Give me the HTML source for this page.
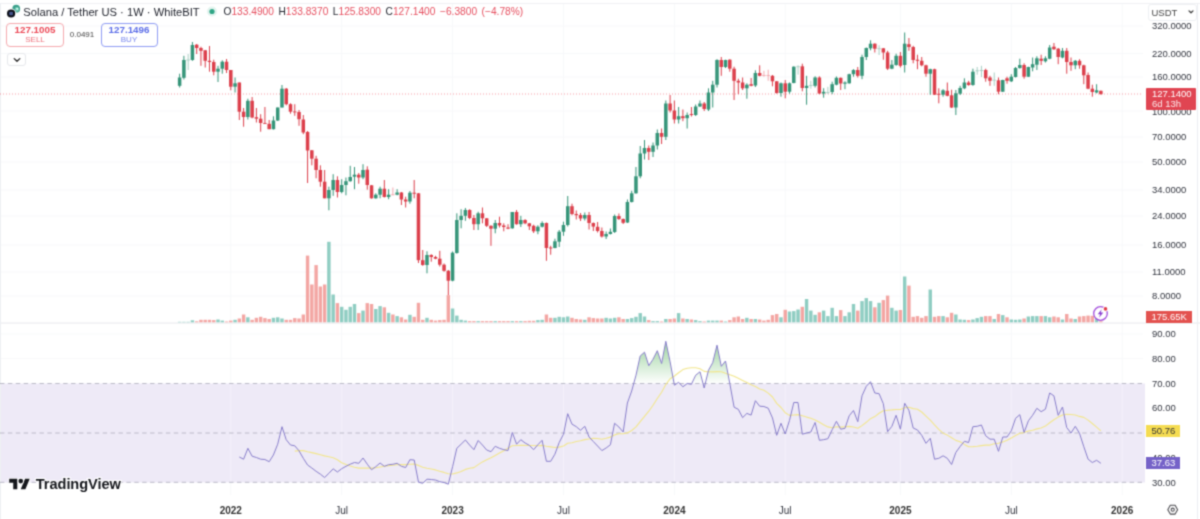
<!DOCTYPE html>
<html><head><meta charset="utf-8"><title>SOLUSDT</title>
<style>
html,body{margin:0;padding:0;background:#fff;}
body{width:1200px;height:519px;position:relative;overflow:hidden;font-family:"Liberation Sans",sans-serif;}
.t{position:absolute;font-size:9.5px;line-height:12px;color:#30333d;white-space:nowrap;}
.c{text-align:center;}
.k{color:#23262f;}
.box{position:absolute;box-sizing:border-box;}
#w{position:absolute;left:0;top:0;width:1200px;height:519px;overflow:hidden;filter:url(#softblur);background:#fff;}
</style></head><body><svg width="0" height="0" style="position:absolute"><defs><filter id="softblur" x="0" y="0" width="100%" height="100%" color-interpolation-filters="sRGB"><feConvolveMatrix order="3" kernelMatrix="0.036 0.118 0.036 0.118 0.384 0.118 0.036 0.118 0.036" divisor="1" edgeMode="duplicate" preserveAlpha="true"/></filter></defs></svg><div id="w">
<svg width="1200" height="519" viewBox="0 0 1200 519" style="position:absolute;left:0;top:0">
<defs><linearGradient id="ob" x1="0" y1="341" x2="0" y2="384" gradientUnits="userSpaceOnUse"><stop offset="0" stop-color="#4caf50" stop-opacity="0.55"/><stop offset="1" stop-color="#4caf50" stop-opacity="0"/></linearGradient>
<clipPath id="above70"><rect x="0" y="325" width="1143" height="58.5"/></clipPath></defs>
<line x1="0" x2="1143" y1="26" y2="26" stroke="#f7f8fa" stroke-width="1"/>
<line x1="0" x2="1143" y1="53.5" y2="53.5" stroke="#f7f8fa" stroke-width="1"/>
<line x1="0" x2="1143" y1="77" y2="77" stroke="#f7f8fa" stroke-width="1"/>
<line x1="0" x2="1143" y1="111" y2="111" stroke="#f7f8fa" stroke-width="1"/>
<line x1="0" x2="1143" y1="137" y2="137" stroke="#f7f8fa" stroke-width="1"/>
<line x1="0" x2="1143" y1="162" y2="162" stroke="#f7f8fa" stroke-width="1"/>
<line x1="0" x2="1143" y1="190" y2="190" stroke="#f7f8fa" stroke-width="1"/>
<line x1="0" x2="1143" y1="216" y2="216" stroke="#f7f8fa" stroke-width="1"/>
<line x1="0" x2="1143" y1="245" y2="245" stroke="#f7f8fa" stroke-width="1"/>
<line x1="0" x2="1143" y1="272" y2="272" stroke="#f7f8fa" stroke-width="1"/>
<line x1="0" x2="1143" y1="296" y2="296" stroke="#f7f8fa" stroke-width="1"/>
<line x1="0" x2="1143" y1="334" y2="334" stroke="#f7f8fa" stroke-width="1" opacity="0.8"/>
<line x1="0" x2="1143" y1="358.5" y2="358.5" stroke="#f7f8fa" stroke-width="1" opacity="0.8"/>
<line x1="0" x2="1143" y1="408" y2="408" stroke="#f7f8fa" stroke-width="1" opacity="0.8"/>
<line x1="0" x2="1143" y1="457.5" y2="457.5" stroke="#f7f8fa" stroke-width="1" opacity="0.8"/>
<line x1="230.8" x2="230.8" y1="4" y2="495" stroke="#f7f8fa" stroke-width="1"/>
<line x1="341.7" x2="341.7" y1="4" y2="495" stroke="#f7f8fa" stroke-width="1"/>
<line x1="452.6" x2="452.6" y1="4" y2="495" stroke="#f7f8fa" stroke-width="1"/>
<line x1="563.5" x2="563.5" y1="4" y2="495" stroke="#f7f8fa" stroke-width="1"/>
<line x1="674.4" x2="674.4" y1="4" y2="495" stroke="#f7f8fa" stroke-width="1"/>
<line x1="785.2" x2="785.2" y1="4" y2="495" stroke="#f7f8fa" stroke-width="1"/>
<line x1="900.4" x2="900.4" y1="4" y2="495" stroke="#f7f8fa" stroke-width="1"/>
<line x1="1011.3" x2="1011.3" y1="4" y2="495" stroke="#f7f8fa" stroke-width="1"/>
<line x1="1122.2" x2="1122.2" y1="4" y2="495" stroke="#f7f8fa" stroke-width="1"/>
<rect x="0" y="383.5" width="1145" height="99" fill="#eeeaf7"/>
<line x1="230.8" x2="230.8" y1="384" y2="482" stroke="#f4f1fb" stroke-width="1"/>
<line x1="341.7" x2="341.7" y1="384" y2="482" stroke="#f4f1fb" stroke-width="1"/>
<line x1="452.6" x2="452.6" y1="384" y2="482" stroke="#f4f1fb" stroke-width="1"/>
<line x1="563.5" x2="563.5" y1="384" y2="482" stroke="#f4f1fb" stroke-width="1"/>
<line x1="674.4" x2="674.4" y1="384" y2="482" stroke="#f4f1fb" stroke-width="1"/>
<line x1="785.2" x2="785.2" y1="384" y2="482" stroke="#f4f1fb" stroke-width="1"/>
<line x1="900.4" x2="900.4" y1="384" y2="482" stroke="#f4f1fb" stroke-width="1"/>
<line x1="1011.3" x2="1011.3" y1="384" y2="482" stroke="#f4f1fb" stroke-width="1"/>
<line x1="1122.2" x2="1122.2" y1="384" y2="482" stroke="#f4f1fb" stroke-width="1"/>
<line x1="0" x2="1200" y1="3.5" y2="3.5" stroke="#f0f1f4" stroke-width="1"/>
<rect x="0" y="322.3" width="1200" height="1.5" fill="#eff0f3"/>
<line x1="0.5" x2="0.5" y1="3" y2="519" stroke="#eef0f3" stroke-width="1"/>
<line x1="1197.5" x2="1197.5" y1="3" y2="519" stroke="#eceef2" stroke-width="1"/>
<rect x="177.92" y="321.80" width="3.4" height="0.50" fill="#8fcdc2"/>
<rect x="182.19" y="321.80" width="3.4" height="0.50" fill="#8fcdc2"/>
<rect x="186.45" y="321.80" width="3.4" height="0.50" fill="#8fcdc2"/>
<rect x="190.72" y="320.30" width="3.4" height="2.00" fill="#8fcdc2"/>
<rect x="194.98" y="321.30" width="3.4" height="1.00" fill="#f3a6a3"/>
<rect x="199.25" y="319.80" width="3.4" height="2.50" fill="#f3a6a3"/>
<rect x="203.51" y="319.80" width="3.4" height="2.50" fill="#f3a6a3"/>
<rect x="207.78" y="319.80" width="3.4" height="2.50" fill="#f3a6a3"/>
<rect x="212.04" y="320.10" width="3.4" height="2.20" fill="#f3a6a3"/>
<rect x="216.31" y="319.50" width="3.4" height="2.80" fill="#8fcdc2"/>
<rect x="220.57" y="320.60" width="3.4" height="1.70" fill="#8fcdc2"/>
<rect x="224.84" y="321.50" width="3.4" height="0.80" fill="#f3a6a3"/>
<rect x="229.10" y="320.60" width="3.4" height="1.70" fill="#f3a6a3"/>
<rect x="233.37" y="319.80" width="3.4" height="2.50" fill="#8fcdc2"/>
<rect x="237.63" y="318.50" width="3.4" height="3.80" fill="#f3a6a3"/>
<rect x="241.90" y="314.50" width="3.4" height="7.80" fill="#f3a6a3"/>
<rect x="246.16" y="317.30" width="3.4" height="5.00" fill="#8fcdc2"/>
<rect x="250.43" y="319.80" width="3.4" height="2.50" fill="#f3a6a3"/>
<rect x="254.69" y="317.80" width="3.4" height="4.50" fill="#f3a6a3"/>
<rect x="258.96" y="316.80" width="3.4" height="5.50" fill="#f3a6a3"/>
<rect x="263.22" y="318.10" width="3.4" height="4.20" fill="#f3a6a3"/>
<rect x="267.49" y="319.00" width="3.4" height="3.30" fill="#f3a6a3"/>
<rect x="271.75" y="317.80" width="3.4" height="4.50" fill="#8fcdc2"/>
<rect x="276.02" y="317.30" width="3.4" height="5.00" fill="#8fcdc2"/>
<rect x="280.28" y="318.50" width="3.4" height="3.80" fill="#8fcdc2"/>
<rect x="284.55" y="319.80" width="3.4" height="2.50" fill="#f3a6a3"/>
<rect x="288.81" y="319.80" width="3.4" height="2.50" fill="#f3a6a3"/>
<rect x="293.07" y="318.10" width="3.4" height="4.20" fill="#f3a6a3"/>
<rect x="297.34" y="318.50" width="3.4" height="3.80" fill="#f3a6a3"/>
<rect x="301.61" y="314.50" width="3.4" height="7.80" fill="#f3a6a3"/>
<rect x="305.87" y="255.60" width="3.4" height="66.70" fill="#f3a6a3"/>
<rect x="310.14" y="284.50" width="3.4" height="37.80" fill="#f3a6a3"/>
<rect x="314.40" y="265.10" width="3.4" height="57.20" fill="#f3a6a3"/>
<rect x="318.67" y="286.50" width="3.4" height="35.80" fill="#f3a6a3"/>
<rect x="322.93" y="284.50" width="3.4" height="37.80" fill="#f3a6a3"/>
<rect x="327.19" y="241.80" width="3.4" height="80.50" fill="#8fcdc2"/>
<rect x="331.46" y="294.50" width="3.4" height="27.80" fill="#8fcdc2"/>
<rect x="335.73" y="303.10" width="3.4" height="19.20" fill="#f3a6a3"/>
<rect x="339.99" y="306.80" width="3.4" height="15.50" fill="#8fcdc2"/>
<rect x="344.25" y="309.80" width="3.4" height="12.50" fill="#8fcdc2"/>
<rect x="348.52" y="306.80" width="3.4" height="15.50" fill="#8fcdc2"/>
<rect x="352.79" y="304.00" width="3.4" height="18.30" fill="#8fcdc2"/>
<rect x="357.05" y="313.10" width="3.4" height="9.20" fill="#f3a6a3"/>
<rect x="361.31" y="310.60" width="3.4" height="11.70" fill="#8fcdc2"/>
<rect x="365.58" y="303.10" width="3.4" height="19.20" fill="#f3a6a3"/>
<rect x="369.84" y="304.00" width="3.4" height="18.30" fill="#f3a6a3"/>
<rect x="374.11" y="309.00" width="3.4" height="13.30" fill="#8fcdc2"/>
<rect x="378.38" y="306.10" width="3.4" height="16.20" fill="#8fcdc2"/>
<rect x="382.64" y="307.30" width="3.4" height="15.00" fill="#f3a6a3"/>
<rect x="386.91" y="312.80" width="3.4" height="9.50" fill="#8fcdc2"/>
<rect x="391.17" y="314.50" width="3.4" height="7.80" fill="#f3a6a3"/>
<rect x="395.44" y="316.10" width="3.4" height="6.20" fill="#8fcdc2"/>
<rect x="399.70" y="317.30" width="3.4" height="5.00" fill="#f3a6a3"/>
<rect x="403.96" y="319.50" width="3.4" height="2.80" fill="#f3a6a3"/>
<rect x="408.23" y="314.80" width="3.4" height="7.50" fill="#8fcdc2"/>
<rect x="412.50" y="316.80" width="3.4" height="5.50" fill="#f3a6a3"/>
<rect x="416.76" y="302.80" width="3.4" height="19.50" fill="#f3a6a3"/>
<rect x="421.03" y="319.80" width="3.4" height="2.50" fill="#f3a6a3"/>
<rect x="425.29" y="317.80" width="3.4" height="4.50" fill="#8fcdc2"/>
<rect x="429.56" y="319.80" width="3.4" height="2.50" fill="#f3a6a3"/>
<rect x="433.82" y="320.60" width="3.4" height="1.70" fill="#f3a6a3"/>
<rect x="438.08" y="320.10" width="3.4" height="2.20" fill="#f3a6a3"/>
<rect x="442.35" y="319.80" width="3.4" height="2.50" fill="#f3a6a3"/>
<rect x="446.62" y="295.10" width="3.4" height="27.20" fill="#f3a6a3"/>
<rect x="450.88" y="308.50" width="3.4" height="13.80" fill="#8fcdc2"/>
<rect x="455.15" y="315.60" width="3.4" height="6.70" fill="#8fcdc2"/>
<rect x="459.41" y="319.80" width="3.4" height="2.50" fill="#8fcdc2"/>
<rect x="463.68" y="320.60" width="3.4" height="1.70" fill="#8fcdc2"/>
<rect x="467.94" y="321.10" width="3.4" height="1.20" fill="#f3a6a3"/>
<rect x="472.20" y="321.10" width="3.4" height="1.20" fill="#f3a6a3"/>
<rect x="476.47" y="321.10" width="3.4" height="1.20" fill="#8fcdc2"/>
<rect x="480.74" y="321.10" width="3.4" height="1.20" fill="#f3a6a3"/>
<rect x="485.00" y="321.10" width="3.4" height="1.20" fill="#f3a6a3"/>
<rect x="489.26" y="321.10" width="3.4" height="1.20" fill="#f3a6a3"/>
<rect x="493.53" y="321.10" width="3.4" height="1.20" fill="#8fcdc2"/>
<rect x="497.80" y="321.10" width="3.4" height="1.20" fill="#f3a6a3"/>
<rect x="502.06" y="321.10" width="3.4" height="1.20" fill="#f3a6a3"/>
<rect x="506.32" y="321.10" width="3.4" height="1.20" fill="#f3a6a3"/>
<rect x="510.59" y="321.10" width="3.4" height="1.20" fill="#8fcdc2"/>
<rect x="514.86" y="321.10" width="3.4" height="1.20" fill="#f3a6a3"/>
<rect x="519.12" y="321.10" width="3.4" height="1.20" fill="#8fcdc2"/>
<rect x="523.38" y="321.10" width="3.4" height="1.20" fill="#f3a6a3"/>
<rect x="527.65" y="320.80" width="3.4" height="1.50" fill="#f3a6a3"/>
<rect x="531.91" y="320.80" width="3.4" height="1.50" fill="#f3a6a3"/>
<rect x="536.18" y="320.10" width="3.4" height="2.20" fill="#8fcdc2"/>
<rect x="540.44" y="319.80" width="3.4" height="2.50" fill="#8fcdc2"/>
<rect x="544.71" y="314.50" width="3.4" height="7.80" fill="#f3a6a3"/>
<rect x="548.97" y="317.80" width="3.4" height="4.50" fill="#f3a6a3"/>
<rect x="553.24" y="317.80" width="3.4" height="4.50" fill="#8fcdc2"/>
<rect x="557.50" y="316.80" width="3.4" height="5.50" fill="#8fcdc2"/>
<rect x="561.77" y="317.30" width="3.4" height="5.00" fill="#8fcdc2"/>
<rect x="566.03" y="316.50" width="3.4" height="5.80" fill="#8fcdc2"/>
<rect x="570.30" y="317.80" width="3.4" height="4.50" fill="#f3a6a3"/>
<rect x="574.56" y="319.00" width="3.4" height="3.30" fill="#f3a6a3"/>
<rect x="578.83" y="319.50" width="3.4" height="2.80" fill="#f3a6a3"/>
<rect x="583.09" y="319.80" width="3.4" height="2.50" fill="#8fcdc2"/>
<rect x="587.36" y="317.30" width="3.4" height="5.00" fill="#f3a6a3"/>
<rect x="591.62" y="318.10" width="3.4" height="4.20" fill="#f3a6a3"/>
<rect x="595.89" y="318.50" width="3.4" height="3.80" fill="#f3a6a3"/>
<rect x="600.15" y="318.50" width="3.4" height="3.80" fill="#f3a6a3"/>
<rect x="604.42" y="317.80" width="3.4" height="4.50" fill="#8fcdc2"/>
<rect x="608.68" y="318.50" width="3.4" height="3.80" fill="#8fcdc2"/>
<rect x="612.95" y="317.80" width="3.4" height="4.50" fill="#8fcdc2"/>
<rect x="617.21" y="317.30" width="3.4" height="5.00" fill="#f3a6a3"/>
<rect x="621.48" y="319.00" width="3.4" height="3.30" fill="#f3a6a3"/>
<rect x="625.74" y="319.00" width="3.4" height="3.30" fill="#8fcdc2"/>
<rect x="630.01" y="318.10" width="3.4" height="4.20" fill="#8fcdc2"/>
<rect x="634.27" y="316.80" width="3.4" height="5.50" fill="#8fcdc2"/>
<rect x="638.54" y="313.10" width="3.4" height="9.20" fill="#8fcdc2"/>
<rect x="642.80" y="316.50" width="3.4" height="5.80" fill="#8fcdc2"/>
<rect x="647.07" y="320.10" width="3.4" height="2.20" fill="#f3a6a3"/>
<rect x="651.33" y="321.10" width="3.4" height="1.20" fill="#8fcdc2"/>
<rect x="655.60" y="321.10" width="3.4" height="1.20" fill="#8fcdc2"/>
<rect x="659.87" y="321.50" width="3.4" height="0.80" fill="#f3a6a3"/>
<rect x="664.13" y="319.00" width="3.4" height="3.30" fill="#8fcdc2"/>
<rect x="668.39" y="319.00" width="3.4" height="3.30" fill="#f3a6a3"/>
<rect x="672.66" y="318.50" width="3.4" height="3.80" fill="#f3a6a3"/>
<rect x="676.92" y="313.10" width="3.4" height="9.20" fill="#8fcdc2"/>
<rect x="681.19" y="318.50" width="3.4" height="3.80" fill="#f3a6a3"/>
<rect x="685.45" y="319.00" width="3.4" height="3.30" fill="#8fcdc2"/>
<rect x="689.72" y="319.50" width="3.4" height="2.80" fill="#f3a6a3"/>
<rect x="693.98" y="320.10" width="3.4" height="2.20" fill="#8fcdc2"/>
<rect x="698.25" y="321.10" width="3.4" height="1.20" fill="#8fcdc2"/>
<rect x="702.51" y="321.50" width="3.4" height="0.80" fill="#f3a6a3"/>
<rect x="706.78" y="320.60" width="3.4" height="1.70" fill="#8fcdc2"/>
<rect x="711.04" y="320.60" width="3.4" height="1.70" fill="#8fcdc2"/>
<rect x="715.31" y="320.60" width="3.4" height="1.70" fill="#8fcdc2"/>
<rect x="719.57" y="320.60" width="3.4" height="1.70" fill="#f3a6a3"/>
<rect x="723.84" y="321.50" width="3.4" height="0.80" fill="#8fcdc2"/>
<rect x="728.10" y="320.10" width="3.4" height="2.20" fill="#f3a6a3"/>
<rect x="732.37" y="317.30" width="3.4" height="5.00" fill="#f3a6a3"/>
<rect x="736.63" y="316.50" width="3.4" height="5.80" fill="#f3a6a3"/>
<rect x="740.90" y="319.00" width="3.4" height="3.30" fill="#f3a6a3"/>
<rect x="745.16" y="317.80" width="3.4" height="4.50" fill="#8fcdc2"/>
<rect x="749.43" y="319.00" width="3.4" height="3.30" fill="#f3a6a3"/>
<rect x="753.69" y="319.00" width="3.4" height="3.30" fill="#8fcdc2"/>
<rect x="757.96" y="319.50" width="3.4" height="2.80" fill="#f3a6a3"/>
<rect x="762.22" y="320.60" width="3.4" height="1.70" fill="#f3a6a3"/>
<rect x="766.49" y="319.80" width="3.4" height="2.50" fill="#f3a6a3"/>
<rect x="770.75" y="315.10" width="3.4" height="7.20" fill="#f3a6a3"/>
<rect x="775.02" y="314.00" width="3.4" height="8.30" fill="#f3a6a3"/>
<rect x="779.28" y="317.30" width="3.4" height="5.00" fill="#8fcdc2"/>
<rect x="783.55" y="309.80" width="3.4" height="12.50" fill="#f3a6a3"/>
<rect x="787.81" y="311.50" width="3.4" height="10.80" fill="#8fcdc2"/>
<rect x="792.08" y="311.10" width="3.4" height="11.20" fill="#8fcdc2"/>
<rect x="796.35" y="309.50" width="3.4" height="12.80" fill="#8fcdc2"/>
<rect x="800.61" y="306.80" width="3.4" height="15.50" fill="#f3a6a3"/>
<rect x="804.88" y="299.00" width="3.4" height="23.30" fill="#8fcdc2"/>
<rect x="809.14" y="310.60" width="3.4" height="11.70" fill="#8fcdc2"/>
<rect x="813.40" y="314.80" width="3.4" height="7.50" fill="#8fcdc2"/>
<rect x="817.67" y="312.30" width="3.4" height="10.00" fill="#f3a6a3"/>
<rect x="821.93" y="310.60" width="3.4" height="11.70" fill="#8fcdc2"/>
<rect x="826.20" y="316.10" width="3.4" height="6.20" fill="#8fcdc2"/>
<rect x="830.46" y="307.80" width="3.4" height="14.50" fill="#8fcdc2"/>
<rect x="834.73" y="316.10" width="3.4" height="6.20" fill="#8fcdc2"/>
<rect x="838.99" y="310.10" width="3.4" height="12.20" fill="#f3a6a3"/>
<rect x="843.26" y="316.10" width="3.4" height="6.20" fill="#8fcdc2"/>
<rect x="847.52" y="312.30" width="3.4" height="10.00" fill="#8fcdc2"/>
<rect x="851.79" y="304.00" width="3.4" height="18.30" fill="#8fcdc2"/>
<rect x="856.05" y="310.60" width="3.4" height="11.70" fill="#f3a6a3"/>
<rect x="860.32" y="301.10" width="3.4" height="21.20" fill="#8fcdc2"/>
<rect x="864.58" y="298.10" width="3.4" height="24.20" fill="#8fcdc2"/>
<rect x="868.85" y="301.10" width="3.4" height="21.20" fill="#8fcdc2"/>
<rect x="873.12" y="307.30" width="3.4" height="15.00" fill="#f3a6a3"/>
<rect x="877.38" y="302.80" width="3.4" height="19.50" fill="#8fcdc2"/>
<rect x="881.64" y="300.10" width="3.4" height="22.20" fill="#f3a6a3"/>
<rect x="885.91" y="295.60" width="3.4" height="26.70" fill="#f3a6a3"/>
<rect x="890.17" y="307.80" width="3.4" height="14.50" fill="#8fcdc2"/>
<rect x="894.44" y="310.60" width="3.4" height="11.70" fill="#8fcdc2"/>
<rect x="898.70" y="310.00" width="3.4" height="12.30" fill="#f3a6a3"/>
<rect x="902.97" y="276.50" width="3.4" height="45.80" fill="#8fcdc2"/>
<rect x="907.23" y="285.60" width="3.4" height="36.70" fill="#f3a6a3"/>
<rect x="911.50" y="316.80" width="3.4" height="5.50" fill="#f3a6a3"/>
<rect x="915.76" y="316.10" width="3.4" height="6.20" fill="#f3a6a3"/>
<rect x="920.03" y="317.80" width="3.4" height="4.50" fill="#f3a6a3"/>
<rect x="924.29" y="316.10" width="3.4" height="6.20" fill="#f3a6a3"/>
<rect x="928.56" y="289.50" width="3.4" height="32.80" fill="#8fcdc2"/>
<rect x="932.82" y="316.80" width="3.4" height="5.50" fill="#f3a6a3"/>
<rect x="937.09" y="316.10" width="3.4" height="6.20" fill="#f3a6a3"/>
<rect x="941.36" y="316.10" width="3.4" height="6.20" fill="#8fcdc2"/>
<rect x="945.62" y="317.30" width="3.4" height="5.00" fill="#f3a6a3"/>
<rect x="949.88" y="312.80" width="3.4" height="9.50" fill="#f3a6a3"/>
<rect x="954.15" y="314.50" width="3.4" height="7.80" fill="#8fcdc2"/>
<rect x="958.41" y="319.50" width="3.4" height="2.80" fill="#8fcdc2"/>
<rect x="962.68" y="319.80" width="3.4" height="2.50" fill="#8fcdc2"/>
<rect x="966.94" y="320.10" width="3.4" height="2.20" fill="#f3a6a3"/>
<rect x="971.21" y="319.50" width="3.4" height="2.80" fill="#8fcdc2"/>
<rect x="975.47" y="318.10" width="3.4" height="4.20" fill="#8fcdc2"/>
<rect x="979.74" y="316.80" width="3.4" height="5.50" fill="#8fcdc2"/>
<rect x="984.00" y="316.10" width="3.4" height="6.20" fill="#f3a6a3"/>
<rect x="988.27" y="316.10" width="3.4" height="6.20" fill="#f3a6a3"/>
<rect x="992.53" y="319.00" width="3.4" height="3.30" fill="#8fcdc2"/>
<rect x="996.80" y="314.00" width="3.4" height="8.30" fill="#f3a6a3"/>
<rect x="1001.06" y="315.10" width="3.4" height="7.20" fill="#8fcdc2"/>
<rect x="1005.33" y="317.30" width="3.4" height="5.00" fill="#f3a6a3"/>
<rect x="1009.59" y="319.50" width="3.4" height="2.80" fill="#8fcdc2"/>
<rect x="1013.86" y="319.80" width="3.4" height="2.50" fill="#8fcdc2"/>
<rect x="1018.12" y="319.50" width="3.4" height="2.80" fill="#8fcdc2"/>
<rect x="1022.39" y="318.50" width="3.4" height="3.80" fill="#f3a6a3"/>
<rect x="1026.65" y="316.50" width="3.4" height="5.80" fill="#8fcdc2"/>
<rect x="1030.92" y="316.10" width="3.4" height="6.20" fill="#8fcdc2"/>
<rect x="1035.18" y="316.10" width="3.4" height="6.20" fill="#8fcdc2"/>
<rect x="1039.45" y="316.10" width="3.4" height="6.20" fill="#f3a6a3"/>
<rect x="1043.71" y="316.10" width="3.4" height="6.20" fill="#8fcdc2"/>
<rect x="1047.98" y="317.30" width="3.4" height="5.00" fill="#8fcdc2"/>
<rect x="1052.24" y="316.50" width="3.4" height="5.80" fill="#f3a6a3"/>
<rect x="1056.51" y="317.30" width="3.4" height="5.00" fill="#f3a6a3"/>
<rect x="1060.77" y="319.50" width="3.4" height="2.80" fill="#8fcdc2"/>
<rect x="1065.04" y="314.00" width="3.4" height="8.30" fill="#f3a6a3"/>
<rect x="1069.30" y="318.50" width="3.4" height="3.80" fill="#f3a6a3"/>
<rect x="1073.57" y="319.00" width="3.4" height="3.30" fill="#8fcdc2"/>
<rect x="1077.83" y="316.50" width="3.4" height="5.80" fill="#f3a6a3"/>
<rect x="1082.10" y="316.10" width="3.4" height="6.20" fill="#f3a6a3"/>
<rect x="1086.37" y="315.60" width="3.4" height="6.70" fill="#f3a6a3"/>
<rect x="1090.63" y="315.80" width="3.4" height="6.50" fill="#f3a6a3"/>
<rect x="1094.89" y="316.30" width="3.4" height="6.00" fill="#8fcdc2"/>
<rect x="1099.16" y="321.30" width="3.4" height="1.00" fill="#f3a6a3"/>
<line x1="0" x2="1143" y1="94" y2="94" stroke="#ee3a49" stroke-width="1" stroke-dasharray="1 2" opacity="0.5"/>
<rect x="179.12" y="73.70" width="1" height="13.80" fill="#369579"/>
<rect x="177.87" y="77.50" width="3.5" height="8.30" fill="#369579"/>
<rect x="183.39" y="55.80" width="1" height="23.70" fill="#369579"/>
<rect x="182.14" y="60.00" width="3.5" height="17.80" fill="#369579"/>
<rect x="187.65" y="54.00" width="1" height="16.00" fill="#a9cfc4"/>
<rect x="186.40" y="59.50" width="3.5" height="1.00" fill="#a9cfc4"/>
<rect x="191.92" y="42.00" width="1" height="18.80" fill="#369579"/>
<rect x="190.67" y="45.00" width="3.5" height="15.00" fill="#369579"/>
<rect x="196.18" y="44.00" width="1" height="10.00" fill="#dc404c"/>
<rect x="194.93" y="44.70" width="3.5" height="3.30" fill="#dc404c"/>
<rect x="200.45" y="46.70" width="1" height="19.10" fill="#dc404c"/>
<rect x="199.20" y="48.00" width="3.5" height="2.80" fill="#dc404c"/>
<rect x="204.71" y="50.00" width="1" height="17.50" fill="#dc404c"/>
<rect x="203.46" y="50.30" width="3.5" height="10.50" fill="#dc404c"/>
<rect x="208.98" y="46.00" width="1" height="25.70" fill="#dc404c"/>
<rect x="207.73" y="60.80" width="3.5" height="1.20" fill="#dc404c"/>
<rect x="213.24" y="59.70" width="1" height="15.60" fill="#dc404c"/>
<rect x="211.99" y="62.00" width="3.5" height="9.70" fill="#dc404c"/>
<rect x="217.51" y="65.80" width="1" height="16.20" fill="#369579"/>
<rect x="216.26" y="68.70" width="3.5" height="3.00" fill="#369579"/>
<rect x="221.77" y="60.30" width="1" height="13.40" fill="#369579"/>
<rect x="220.52" y="61.70" width="3.5" height="7.00" fill="#369579"/>
<rect x="226.04" y="59.00" width="1" height="14.00" fill="#dc404c"/>
<rect x="224.79" y="61.70" width="3.5" height="8.30" fill="#dc404c"/>
<rect x="230.30" y="70.00" width="1" height="20.30" fill="#dc404c"/>
<rect x="229.05" y="70.00" width="3.5" height="16.70" fill="#dc404c"/>
<rect x="234.56" y="77.50" width="1" height="15.00" fill="#369579"/>
<rect x="233.31" y="83.30" width="3.5" height="3.40" fill="#369579"/>
<rect x="238.83" y="82.50" width="1" height="37.50" fill="#dc404c"/>
<rect x="237.58" y="82.50" width="3.5" height="29.20" fill="#dc404c"/>
<rect x="243.09" y="108.00" width="1" height="18.70" fill="#dc404c"/>
<rect x="241.84" y="111.70" width="3.5" height="5.30" fill="#dc404c"/>
<rect x="247.36" y="98.70" width="1" height="20.80" fill="#369579"/>
<rect x="246.11" y="100.80" width="3.5" height="16.20" fill="#369579"/>
<rect x="251.62" y="97.00" width="1" height="21.30" fill="#dc404c"/>
<rect x="250.38" y="100.80" width="3.5" height="16.70" fill="#dc404c"/>
<rect x="255.89" y="108.00" width="1" height="14.50" fill="#dc404c"/>
<rect x="254.64" y="117.20" width="3.5" height="1.50" fill="#dc404c"/>
<rect x="260.16" y="114.20" width="1" height="17.50" fill="#dc404c"/>
<rect x="258.91" y="118.70" width="3.5" height="4.30" fill="#dc404c"/>
<rect x="264.42" y="107.00" width="1" height="16.80" fill="#dc404c"/>
<rect x="263.17" y="123.00" width="3.5" height="0.90" fill="#dc404c"/>
<rect x="268.69" y="120.00" width="1" height="9.20" fill="#dc404c"/>
<rect x="267.44" y="123.80" width="3.5" height="5.40" fill="#dc404c"/>
<rect x="272.95" y="116.30" width="1" height="13.20" fill="#369579"/>
<rect x="271.70" y="120.50" width="3.5" height="8.70" fill="#369579"/>
<rect x="277.22" y="107.50" width="1" height="13.50" fill="#369579"/>
<rect x="275.97" y="107.50" width="3.5" height="13.00" fill="#369579"/>
<rect x="281.48" y="85.00" width="1" height="22.50" fill="#369579"/>
<rect x="280.23" y="88.70" width="3.5" height="18.80" fill="#369579"/>
<rect x="285.75" y="88.00" width="1" height="17.30" fill="#dc404c"/>
<rect x="284.50" y="88.70" width="3.5" height="15.50" fill="#dc404c"/>
<rect x="290.01" y="103.30" width="1" height="10.40" fill="#dc404c"/>
<rect x="288.76" y="104.20" width="3.5" height="7.50" fill="#dc404c"/>
<rect x="294.27" y="104.20" width="1" height="11.60" fill="#dc404c"/>
<rect x="293.02" y="111.50" width="3.5" height="0.90" fill="#dc404c"/>
<rect x="298.54" y="110.00" width="1" height="15.80" fill="#dc404c"/>
<rect x="297.29" y="112.00" width="3.5" height="7.20" fill="#dc404c"/>
<rect x="302.81" y="115.00" width="1" height="19.20" fill="#dc404c"/>
<rect x="301.56" y="119.50" width="3.5" height="13.00" fill="#dc404c"/>
<rect x="307.07" y="131.00" width="1" height="52.00" fill="#dc404c"/>
<rect x="305.82" y="132.00" width="3.5" height="18.50" fill="#dc404c"/>
<rect x="311.34" y="150.00" width="1" height="15.30" fill="#dc404c"/>
<rect x="310.09" y="150.30" width="3.5" height="8.40" fill="#dc404c"/>
<rect x="315.60" y="155.80" width="1" height="22.50" fill="#dc404c"/>
<rect x="314.35" y="158.70" width="3.5" height="11.30" fill="#dc404c"/>
<rect x="319.87" y="165.30" width="1" height="21.40" fill="#dc404c"/>
<rect x="318.62" y="170.00" width="3.5" height="11.70" fill="#dc404c"/>
<rect x="324.13" y="170.00" width="1" height="28.30" fill="#dc404c"/>
<rect x="322.88" y="181.70" width="3.5" height="16.60" fill="#dc404c"/>
<rect x="328.39" y="186.70" width="1" height="23.60" fill="#369579"/>
<rect x="327.14" y="190.00" width="3.5" height="8.30" fill="#369579"/>
<rect x="332.66" y="174.20" width="1" height="21.60" fill="#369579"/>
<rect x="331.41" y="180.00" width="3.5" height="10.00" fill="#369579"/>
<rect x="336.93" y="176.30" width="1" height="21.20" fill="#dc404c"/>
<rect x="335.68" y="180.00" width="3.5" height="12.00" fill="#dc404c"/>
<rect x="341.19" y="179.20" width="1" height="14.10" fill="#369579"/>
<rect x="339.94" y="185.00" width="3.5" height="7.00" fill="#369579"/>
<rect x="345.45" y="177.50" width="1" height="17.80" fill="#369579"/>
<rect x="344.20" y="181.20" width="3.5" height="3.80" fill="#369579"/>
<rect x="349.72" y="165.80" width="1" height="15.90" fill="#369579"/>
<rect x="348.47" y="177.00" width="3.5" height="4.20" fill="#369579"/>
<rect x="353.99" y="167.00" width="1" height="22.20" fill="#369579"/>
<rect x="352.74" y="174.70" width="3.5" height="2.00" fill="#369579"/>
<rect x="358.25" y="173.00" width="1" height="10.70" fill="#dc404c"/>
<rect x="357.00" y="174.70" width="3.5" height="2.80" fill="#dc404c"/>
<rect x="362.51" y="164.20" width="1" height="15.00" fill="#369579"/>
<rect x="361.26" y="170.00" width="3.5" height="7.50" fill="#369579"/>
<rect x="366.78" y="166.30" width="1" height="23.40" fill="#dc404c"/>
<rect x="365.53" y="169.70" width="3.5" height="15.30" fill="#dc404c"/>
<rect x="371.04" y="185.00" width="1" height="13.70" fill="#dc404c"/>
<rect x="369.79" y="185.30" width="3.5" height="13.00" fill="#dc404c"/>
<rect x="375.31" y="193.30" width="1" height="5.40" fill="#369579"/>
<rect x="374.06" y="194.70" width="3.5" height="3.60" fill="#369579"/>
<rect x="379.57" y="186.70" width="1" height="11.60" fill="#369579"/>
<rect x="378.32" y="188.70" width="3.5" height="6.00" fill="#369579"/>
<rect x="383.84" y="180.00" width="1" height="17.50" fill="#dc404c"/>
<rect x="382.59" y="188.70" width="3.5" height="8.30" fill="#dc404c"/>
<rect x="388.11" y="189.20" width="1" height="10.00" fill="#369579"/>
<rect x="386.86" y="194.70" width="3.5" height="2.30" fill="#369579"/>
<rect x="392.37" y="187.50" width="1" height="7.80" fill="#f3aab0"/>
<rect x="391.12" y="194.30" width="3.5" height="0.90" fill="#f3aab0"/>
<rect x="396.63" y="189.20" width="1" height="6.10" fill="#369579"/>
<rect x="395.38" y="192.50" width="3.5" height="2.20" fill="#369579"/>
<rect x="400.90" y="192.00" width="1" height="13.00" fill="#dc404c"/>
<rect x="399.65" y="192.50" width="3.5" height="7.00" fill="#dc404c"/>
<rect x="405.16" y="196.70" width="1" height="10.80" fill="#dc404c"/>
<rect x="403.91" y="199.50" width="3.5" height="2.00" fill="#dc404c"/>
<rect x="409.43" y="191.00" width="1" height="12.70" fill="#369579"/>
<rect x="408.18" y="192.70" width="3.5" height="8.80" fill="#369579"/>
<rect x="413.69" y="180.00" width="1" height="18.30" fill="#dc404c"/>
<rect x="412.44" y="192.70" width="3.5" height="1.00" fill="#dc404c"/>
<rect x="417.96" y="193.00" width="1" height="70.00" fill="#dc404c"/>
<rect x="416.71" y="193.30" width="3.5" height="66.90" fill="#dc404c"/>
<rect x="422.23" y="250.00" width="1" height="15.80" fill="#dc404c"/>
<rect x="420.98" y="260.20" width="3.5" height="4.80" fill="#dc404c"/>
<rect x="426.49" y="251.30" width="1" height="22.00" fill="#369579"/>
<rect x="425.24" y="255.00" width="3.5" height="10.00" fill="#369579"/>
<rect x="430.75" y="254.20" width="1" height="7.50" fill="#dc404c"/>
<rect x="429.50" y="255.00" width="3.5" height="2.00" fill="#dc404c"/>
<rect x="435.02" y="255.80" width="1" height="3.40" fill="#dc404c"/>
<rect x="433.77" y="257.00" width="3.5" height="1.70" fill="#dc404c"/>
<rect x="439.28" y="250.80" width="1" height="15.70" fill="#dc404c"/>
<rect x="438.03" y="258.70" width="3.5" height="6.00" fill="#dc404c"/>
<rect x="443.55" y="263.50" width="1" height="8.20" fill="#dc404c"/>
<rect x="442.30" y="264.70" width="3.5" height="6.10" fill="#dc404c"/>
<rect x="447.81" y="270.00" width="1" height="25.00" fill="#dc404c"/>
<rect x="446.56" y="270.80" width="3.5" height="9.90" fill="#dc404c"/>
<rect x="452.08" y="251.50" width="1" height="29.80" fill="#369579"/>
<rect x="450.83" y="252.70" width="3.5" height="28.00" fill="#369579"/>
<rect x="456.35" y="213.30" width="1" height="40.40" fill="#369579"/>
<rect x="455.10" y="220.00" width="3.5" height="33.00" fill="#369579"/>
<rect x="460.61" y="209.20" width="1" height="19.10" fill="#369579"/>
<rect x="459.36" y="215.80" width="3.5" height="4.20" fill="#369579"/>
<rect x="464.88" y="208.00" width="1" height="12.80" fill="#369579"/>
<rect x="463.62" y="210.00" width="3.5" height="5.80" fill="#369579"/>
<rect x="469.14" y="209.20" width="1" height="10.00" fill="#dc404c"/>
<rect x="467.89" y="210.00" width="3.5" height="8.00" fill="#dc404c"/>
<rect x="473.40" y="215.00" width="1" height="15.00" fill="#dc404c"/>
<rect x="472.15" y="218.00" width="3.5" height="6.20" fill="#dc404c"/>
<rect x="477.67" y="211.70" width="1" height="18.30" fill="#369579"/>
<rect x="476.42" y="213.30" width="3.5" height="10.90" fill="#369579"/>
<rect x="481.94" y="207.50" width="1" height="15.80" fill="#dc404c"/>
<rect x="480.69" y="213.30" width="3.5" height="5.00" fill="#dc404c"/>
<rect x="486.20" y="218.00" width="1" height="9.00" fill="#dc404c"/>
<rect x="484.95" y="218.30" width="3.5" height="7.50" fill="#dc404c"/>
<rect x="490.46" y="225.30" width="1" height="20.50" fill="#dc404c"/>
<rect x="489.21" y="225.80" width="3.5" height="2.90" fill="#dc404c"/>
<rect x="494.73" y="220.00" width="1" height="13.30" fill="#369579"/>
<rect x="493.48" y="223.00" width="3.5" height="5.70" fill="#369579"/>
<rect x="499.00" y="216.70" width="1" height="10.80" fill="#dc404c"/>
<rect x="497.75" y="223.00" width="3.5" height="2.50" fill="#dc404c"/>
<rect x="503.26" y="223.30" width="1" height="8.00" fill="#dc404c"/>
<rect x="502.01" y="225.50" width="3.5" height="1.50" fill="#dc404c"/>
<rect x="507.52" y="224.20" width="1" height="5.00" fill="#dc404c"/>
<rect x="506.27" y="227.50" width="3.5" height="1.20" fill="#dc404c"/>
<rect x="511.79" y="212.00" width="1" height="16.70" fill="#369579"/>
<rect x="510.54" y="212.00" width="3.5" height="16.30" fill="#369579"/>
<rect x="516.06" y="210.00" width="1" height="14.70" fill="#dc404c"/>
<rect x="514.81" y="212.00" width="3.5" height="12.20" fill="#dc404c"/>
<rect x="520.32" y="215.80" width="1" height="11.20" fill="#369579"/>
<rect x="519.07" y="220.00" width="3.5" height="4.20" fill="#369579"/>
<rect x="524.59" y="219.20" width="1" height="5.00" fill="#dc404c"/>
<rect x="523.34" y="220.00" width="3.5" height="3.30" fill="#dc404c"/>
<rect x="528.85" y="223.00" width="1" height="7.00" fill="#dc404c"/>
<rect x="527.60" y="223.30" width="3.5" height="3.00" fill="#dc404c"/>
<rect x="533.12" y="224.70" width="1" height="8.30" fill="#dc404c"/>
<rect x="531.87" y="225.80" width="3.5" height="5.50" fill="#dc404c"/>
<rect x="537.38" y="225.30" width="1" height="8.90" fill="#369579"/>
<rect x="536.13" y="226.70" width="3.5" height="4.60" fill="#369579"/>
<rect x="541.64" y="221.30" width="1" height="6.20" fill="#369579"/>
<rect x="540.39" y="223.00" width="3.5" height="3.70" fill="#369579"/>
<rect x="545.91" y="222.50" width="1" height="38.30" fill="#dc404c"/>
<rect x="544.66" y="223.00" width="3.5" height="25.00" fill="#dc404c"/>
<rect x="550.17" y="245.80" width="1" height="8.90" fill="#dc404c"/>
<rect x="548.92" y="247.50" width="3.5" height="1.00" fill="#dc404c"/>
<rect x="554.44" y="238.70" width="1" height="9.60" fill="#369579"/>
<rect x="553.19" y="241.30" width="3.5" height="6.70" fill="#369579"/>
<rect x="558.70" y="230.00" width="1" height="17.00" fill="#369579"/>
<rect x="557.45" y="231.70" width="3.5" height="10.00" fill="#369579"/>
<rect x="562.97" y="221.70" width="1" height="14.10" fill="#369579"/>
<rect x="561.72" y="225.00" width="3.5" height="6.70" fill="#369579"/>
<rect x="567.24" y="196.00" width="1" height="30.50" fill="#369579"/>
<rect x="565.99" y="206.20" width="3.5" height="18.80" fill="#369579"/>
<rect x="571.50" y="203.70" width="1" height="11.60" fill="#dc404c"/>
<rect x="570.25" y="206.20" width="3.5" height="7.80" fill="#dc404c"/>
<rect x="575.76" y="210.50" width="1" height="9.00" fill="#dc404c"/>
<rect x="574.51" y="214.00" width="3.5" height="1.20" fill="#dc404c"/>
<rect x="580.03" y="213.00" width="1" height="8.00" fill="#dc404c"/>
<rect x="578.78" y="215.00" width="3.5" height="3.50" fill="#dc404c"/>
<rect x="584.29" y="212.50" width="1" height="8.00" fill="#369579"/>
<rect x="583.04" y="215.00" width="3.5" height="3.50" fill="#369579"/>
<rect x="588.56" y="212.00" width="1" height="17.50" fill="#dc404c"/>
<rect x="587.31" y="215.00" width="3.5" height="8.00" fill="#dc404c"/>
<rect x="592.83" y="222.50" width="1" height="8.50" fill="#dc404c"/>
<rect x="591.58" y="223.00" width="3.5" height="3.60" fill="#dc404c"/>
<rect x="597.09" y="222.00" width="1" height="10.50" fill="#dc404c"/>
<rect x="595.84" y="226.80" width="3.5" height="4.20" fill="#dc404c"/>
<rect x="601.36" y="227.50" width="1" height="10.00" fill="#dc404c"/>
<rect x="600.11" y="231.00" width="3.5" height="5.50" fill="#dc404c"/>
<rect x="605.62" y="231.50" width="1" height="7.50" fill="#369579"/>
<rect x="604.37" y="234.00" width="3.5" height="2.50" fill="#369579"/>
<rect x="609.88" y="228.50" width="1" height="6.00" fill="#369579"/>
<rect x="608.63" y="231.80" width="3.5" height="2.20" fill="#369579"/>
<rect x="614.15" y="214.50" width="1" height="18.50" fill="#369579"/>
<rect x="612.90" y="216.00" width="3.5" height="16.00" fill="#369579"/>
<rect x="618.41" y="213.50" width="1" height="6.50" fill="#dc404c"/>
<rect x="617.16" y="216.00" width="3.5" height="3.00" fill="#dc404c"/>
<rect x="622.68" y="218.50" width="1" height="5.50" fill="#dc404c"/>
<rect x="621.43" y="219.00" width="3.5" height="3.80" fill="#dc404c"/>
<rect x="626.94" y="199.50" width="1" height="23.50" fill="#369579"/>
<rect x="625.69" y="202.00" width="3.5" height="20.50" fill="#369579"/>
<rect x="631.21" y="190.80" width="1" height="11.70" fill="#369579"/>
<rect x="629.96" y="193.30" width="3.5" height="8.70" fill="#369579"/>
<rect x="635.47" y="167.00" width="1" height="26.70" fill="#369579"/>
<rect x="634.22" y="176.30" width="3.5" height="17.00" fill="#369579"/>
<rect x="639.74" y="146.00" width="1" height="32.30" fill="#369579"/>
<rect x="638.49" y="153.50" width="3.5" height="22.80" fill="#369579"/>
<rect x="644.00" y="140.00" width="1" height="19.50" fill="#369579"/>
<rect x="642.75" y="148.00" width="3.5" height="5.50" fill="#369579"/>
<rect x="648.27" y="145.50" width="1" height="14.50" fill="#dc404c"/>
<rect x="647.02" y="148.00" width="3.5" height="3.80" fill="#dc404c"/>
<rect x="652.53" y="142.50" width="1" height="14.50" fill="#369579"/>
<rect x="651.28" y="145.50" width="3.5" height="6.30" fill="#369579"/>
<rect x="656.80" y="129.50" width="1" height="20.00" fill="#369579"/>
<rect x="655.55" y="133.00" width="3.5" height="12.50" fill="#369579"/>
<rect x="661.07" y="128.50" width="1" height="15.50" fill="#dc404c"/>
<rect x="659.82" y="133.00" width="3.5" height="3.80" fill="#dc404c"/>
<rect x="665.33" y="100.50" width="1" height="39.50" fill="#369579"/>
<rect x="664.08" y="103.50" width="3.5" height="33.30" fill="#369579"/>
<rect x="669.60" y="95.00" width="1" height="17.50" fill="#dc404c"/>
<rect x="668.35" y="103.50" width="3.5" height="7.00" fill="#dc404c"/>
<rect x="673.86" y="100.50" width="1" height="23.00" fill="#dc404c"/>
<rect x="672.61" y="110.50" width="3.5" height="9.00" fill="#dc404c"/>
<rect x="678.12" y="107.00" width="1" height="16.50" fill="#369579"/>
<rect x="676.88" y="116.20" width="3.5" height="3.30" fill="#369579"/>
<rect x="682.39" y="109.50" width="1" height="11.70" fill="#dc404c"/>
<rect x="681.14" y="116.20" width="3.5" height="2.00" fill="#dc404c"/>
<rect x="686.65" y="112.50" width="1" height="16.00" fill="#369579"/>
<rect x="685.40" y="115.00" width="3.5" height="3.20" fill="#369579"/>
<rect x="690.92" y="107.00" width="1" height="9.50" fill="#dc404c"/>
<rect x="689.67" y="114.00" width="3.5" height="1.00" fill="#dc404c"/>
<rect x="695.18" y="104.50" width="1" height="11.50" fill="#369579"/>
<rect x="693.93" y="106.50" width="3.5" height="8.50" fill="#369579"/>
<rect x="699.45" y="100.50" width="1" height="6.50" fill="#369579"/>
<rect x="698.20" y="103.50" width="3.5" height="3.00" fill="#369579"/>
<rect x="703.71" y="102.00" width="1" height="9.00" fill="#dc404c"/>
<rect x="702.46" y="103.50" width="3.5" height="5.50" fill="#dc404c"/>
<rect x="707.98" y="88.30" width="1" height="22.70" fill="#369579"/>
<rect x="706.73" y="92.50" width="3.5" height="17.00" fill="#369579"/>
<rect x="712.24" y="80.80" width="1" height="26.70" fill="#369579"/>
<rect x="710.99" y="84.70" width="3.5" height="7.80" fill="#369579"/>
<rect x="716.51" y="59.20" width="1" height="28.30" fill="#369579"/>
<rect x="715.26" y="60.00" width="3.5" height="24.70" fill="#369579"/>
<rect x="720.77" y="57.00" width="1" height="18.80" fill="#dc404c"/>
<rect x="719.52" y="60.00" width="3.5" height="7.00" fill="#dc404c"/>
<rect x="725.04" y="59.70" width="1" height="8.30" fill="#369579"/>
<rect x="723.79" y="60.00" width="3.5" height="7.00" fill="#369579"/>
<rect x="729.30" y="59.20" width="1" height="12.50" fill="#dc404c"/>
<rect x="728.05" y="59.70" width="3.5" height="9.00" fill="#dc404c"/>
<rect x="733.57" y="66.70" width="1" height="33.30" fill="#dc404c"/>
<rect x="732.32" y="68.70" width="3.5" height="12.10" fill="#dc404c"/>
<rect x="737.84" y="78.70" width="1" height="15.50" fill="#dc404c"/>
<rect x="736.59" y="80.80" width="3.5" height="1.70" fill="#dc404c"/>
<rect x="742.10" y="77.50" width="1" height="12.50" fill="#dc404c"/>
<rect x="740.85" y="82.50" width="3.5" height="5.80" fill="#dc404c"/>
<rect x="746.37" y="83.30" width="1" height="15.40" fill="#369579"/>
<rect x="745.12" y="84.70" width="3.5" height="3.60" fill="#369579"/>
<rect x="750.63" y="78.00" width="1" height="8.30" fill="#dc404c"/>
<rect x="749.38" y="84.20" width="3.5" height="1.60" fill="#dc404c"/>
<rect x="754.89" y="70.30" width="1" height="16.70" fill="#369579"/>
<rect x="753.64" y="73.00" width="3.5" height="12.50" fill="#369579"/>
<rect x="759.16" y="65.30" width="1" height="11.00" fill="#dc404c"/>
<rect x="757.91" y="73.00" width="3.5" height="2.80" fill="#dc404c"/>
<rect x="763.42" y="70.80" width="1" height="5.90" fill="#f3aab0"/>
<rect x="762.17" y="75.00" width="3.5" height="0.90" fill="#f3aab0"/>
<rect x="767.69" y="69.70" width="1" height="11.10" fill="#f3aab0"/>
<rect x="766.44" y="75.00" width="3.5" height="0.90" fill="#f3aab0"/>
<rect x="771.95" y="75.00" width="1" height="11.30" fill="#dc404c"/>
<rect x="770.70" y="75.80" width="3.5" height="5.50" fill="#dc404c"/>
<rect x="776.22" y="81.00" width="1" height="12.70" fill="#dc404c"/>
<rect x="774.97" y="81.30" width="3.5" height="11.70" fill="#dc404c"/>
<rect x="780.48" y="82.50" width="1" height="14.20" fill="#369579"/>
<rect x="779.23" y="83.30" width="3.5" height="9.70" fill="#369579"/>
<rect x="784.75" y="80.00" width="1" height="18.30" fill="#dc404c"/>
<rect x="783.50" y="83.30" width="3.5" height="8.40" fill="#dc404c"/>
<rect x="789.01" y="82.50" width="1" height="11.20" fill="#369579"/>
<rect x="787.76" y="83.30" width="3.5" height="8.40" fill="#369579"/>
<rect x="793.28" y="66.30" width="1" height="17.00" fill="#369579"/>
<rect x="792.03" y="66.70" width="3.5" height="16.30" fill="#369579"/>
<rect x="797.55" y="65.30" width="1" height="9.40" fill="#a9cfc4"/>
<rect x="796.30" y="66.30" width="3.5" height="0.90" fill="#a9cfc4"/>
<rect x="801.81" y="63.70" width="1" height="27.60" fill="#dc404c"/>
<rect x="800.56" y="66.30" width="3.5" height="21.70" fill="#dc404c"/>
<rect x="806.08" y="75.80" width="1" height="28.90" fill="#369579"/>
<rect x="804.83" y="85.80" width="3.5" height="2.20" fill="#369579"/>
<rect x="810.34" y="80.80" width="1" height="7.90" fill="#a9cfc4"/>
<rect x="809.09" y="85.00" width="3.5" height="0.90" fill="#a9cfc4"/>
<rect x="814.61" y="76.30" width="1" height="11.20" fill="#369579"/>
<rect x="813.36" y="77.50" width="3.5" height="8.30" fill="#369579"/>
<rect x="818.87" y="76.30" width="1" height="17.90" fill="#dc404c"/>
<rect x="817.62" y="77.50" width="3.5" height="16.00" fill="#dc404c"/>
<rect x="823.13" y="88.20" width="1" height="9.50" fill="#369579"/>
<rect x="821.88" y="91.80" width="3.5" height="1.70" fill="#369579"/>
<rect x="827.40" y="86.80" width="1" height="7.40" fill="#a9cfc4"/>
<rect x="826.15" y="92.00" width="3.5" height="0.90" fill="#a9cfc4"/>
<rect x="831.66" y="81.70" width="1" height="12.50" fill="#369579"/>
<rect x="830.41" y="84.20" width="3.5" height="7.80" fill="#369579"/>
<rect x="835.93" y="76.50" width="1" height="8.80" fill="#369579"/>
<rect x="834.68" y="77.80" width="3.5" height="6.90" fill="#369579"/>
<rect x="840.19" y="77.50" width="1" height="12.50" fill="#dc404c"/>
<rect x="838.94" y="77.80" width="3.5" height="5.70" fill="#dc404c"/>
<rect x="844.46" y="81.30" width="1" height="7.90" fill="#369579"/>
<rect x="843.21" y="82.50" width="3.5" height="1.20" fill="#369579"/>
<rect x="848.72" y="73.70" width="1" height="10.00" fill="#369579"/>
<rect x="847.47" y="74.20" width="3.5" height="9.10" fill="#369579"/>
<rect x="852.99" y="69.20" width="1" height="7.50" fill="#369579"/>
<rect x="851.74" y="70.00" width="3.5" height="4.20" fill="#369579"/>
<rect x="857.25" y="67.00" width="1" height="10.50" fill="#dc404c"/>
<rect x="856.00" y="70.00" width="3.5" height="5.80" fill="#dc404c"/>
<rect x="861.52" y="54.70" width="1" height="24.50" fill="#369579"/>
<rect x="860.27" y="57.00" width="3.5" height="18.80" fill="#369579"/>
<rect x="865.78" y="47.50" width="1" height="12.50" fill="#369579"/>
<rect x="864.53" y="48.00" width="3.5" height="9.00" fill="#369579"/>
<rect x="870.05" y="40.30" width="1" height="10.00" fill="#369579"/>
<rect x="868.80" y="43.70" width="3.5" height="4.60" fill="#369579"/>
<rect x="874.32" y="43.30" width="1" height="9.20" fill="#dc404c"/>
<rect x="873.07" y="43.70" width="3.5" height="5.00" fill="#dc404c"/>
<rect x="878.58" y="45.30" width="1" height="9.70" fill="#a9cfc4"/>
<rect x="877.33" y="48.30" width="3.5" height="0.90" fill="#a9cfc4"/>
<rect x="882.85" y="48.00" width="1" height="11.70" fill="#dc404c"/>
<rect x="881.60" y="48.30" width="3.5" height="4.20" fill="#dc404c"/>
<rect x="887.11" y="50.80" width="1" height="19.20" fill="#dc404c"/>
<rect x="885.86" y="52.50" width="3.5" height="16.20" fill="#dc404c"/>
<rect x="891.38" y="60.00" width="1" height="9.20" fill="#369579"/>
<rect x="890.12" y="64.70" width="3.5" height="4.00" fill="#369579"/>
<rect x="895.64" y="53.70" width="1" height="12.10" fill="#369579"/>
<rect x="894.39" y="55.80" width="3.5" height="9.20" fill="#369579"/>
<rect x="899.90" y="52.00" width="1" height="15.50" fill="#dc404c"/>
<rect x="898.65" y="55.80" width="3.5" height="10.00" fill="#dc404c"/>
<rect x="904.17" y="32.50" width="1" height="40.00" fill="#369579"/>
<rect x="902.92" y="43.70" width="3.5" height="21.30" fill="#369579"/>
<rect x="908.43" y="38.00" width="1" height="12.80" fill="#dc404c"/>
<rect x="907.18" y="44.20" width="3.5" height="2.80" fill="#dc404c"/>
<rect x="912.70" y="45.80" width="1" height="17.50" fill="#dc404c"/>
<rect x="911.45" y="47.00" width="3.5" height="13.00" fill="#dc404c"/>
<rect x="916.96" y="54.70" width="1" height="14.50" fill="#dc404c"/>
<rect x="915.71" y="59.70" width="3.5" height="1.10" fill="#dc404c"/>
<rect x="921.23" y="57.00" width="1" height="9.30" fill="#dc404c"/>
<rect x="919.98" y="60.80" width="3.5" height="4.50" fill="#dc404c"/>
<rect x="925.49" y="64.70" width="1" height="12.00" fill="#dc404c"/>
<rect x="924.24" y="65.30" width="3.5" height="8.40" fill="#dc404c"/>
<rect x="929.76" y="68.70" width="1" height="26.00" fill="#369579"/>
<rect x="928.51" y="69.20" width="3.5" height="4.50" fill="#369579"/>
<rect x="934.02" y="68.70" width="1" height="26.30" fill="#dc404c"/>
<rect x="932.77" y="69.20" width="3.5" height="25.50" fill="#dc404c"/>
<rect x="938.29" y="88.30" width="1" height="15.00" fill="#dc404c"/>
<rect x="937.04" y="93.80" width="3.5" height="0.90" fill="#dc404c"/>
<rect x="942.56" y="89.20" width="1" height="7.50" fill="#369579"/>
<rect x="941.31" y="90.30" width="3.5" height="4.40" fill="#369579"/>
<rect x="946.82" y="82.50" width="1" height="13.80" fill="#dc404c"/>
<rect x="945.57" y="90.80" width="3.5" height="5.00" fill="#dc404c"/>
<rect x="951.09" y="89.70" width="1" height="18.30" fill="#dc404c"/>
<rect x="949.84" y="95.30" width="3.5" height="12.20" fill="#dc404c"/>
<rect x="955.35" y="90.00" width="1" height="25.00" fill="#369579"/>
<rect x="954.10" y="93.30" width="3.5" height="14.20" fill="#369579"/>
<rect x="959.62" y="85.80" width="1" height="9.20" fill="#369579"/>
<rect x="958.37" y="88.00" width="3.5" height="5.70" fill="#369579"/>
<rect x="963.88" y="78.30" width="1" height="10.90" fill="#369579"/>
<rect x="962.63" y="82.50" width="3.5" height="5.80" fill="#369579"/>
<rect x="968.14" y="80.80" width="1" height="5.00" fill="#dc404c"/>
<rect x="966.89" y="82.50" width="3.5" height="2.50" fill="#dc404c"/>
<rect x="972.41" y="68.70" width="1" height="17.10" fill="#369579"/>
<rect x="971.16" y="71.70" width="3.5" height="13.30" fill="#369579"/>
<rect x="976.67" y="67.00" width="1" height="7.70" fill="#a9cfc4"/>
<rect x="975.42" y="70.30" width="3.5" height="1.00" fill="#a9cfc4"/>
<rect x="980.94" y="65.80" width="1" height="11.20" fill="#a9cfc4"/>
<rect x="979.69" y="70.00" width="3.5" height="1.00" fill="#a9cfc4"/>
<rect x="985.20" y="68.70" width="1" height="13.00" fill="#dc404c"/>
<rect x="983.95" y="70.00" width="3.5" height="8.30" fill="#dc404c"/>
<rect x="989.47" y="75.80" width="1" height="10.00" fill="#dc404c"/>
<rect x="988.22" y="77.50" width="3.5" height="3.30" fill="#dc404c"/>
<rect x="993.73" y="72.50" width="1" height="13.30" fill="#a9cfc4"/>
<rect x="992.48" y="79.70" width="3.5" height="0.90" fill="#a9cfc4"/>
<rect x="998.00" y="77.50" width="1" height="16.70" fill="#dc404c"/>
<rect x="996.75" y="80.30" width="3.5" height="11.40" fill="#dc404c"/>
<rect x="1002.26" y="79.70" width="1" height="12.30" fill="#369579"/>
<rect x="1001.01" y="80.00" width="3.5" height="11.70" fill="#369579"/>
<rect x="1006.53" y="76.70" width="1" height="7.00" fill="#dc404c"/>
<rect x="1005.28" y="78.30" width="3.5" height="2.50" fill="#dc404c"/>
<rect x="1010.79" y="74.20" width="1" height="7.80" fill="#369579"/>
<rect x="1009.54" y="76.70" width="3.5" height="4.60" fill="#369579"/>
<rect x="1015.06" y="67.00" width="1" height="10.50" fill="#369579"/>
<rect x="1013.81" y="68.00" width="3.5" height="9.00" fill="#369579"/>
<rect x="1019.33" y="58.70" width="1" height="10.00" fill="#369579"/>
<rect x="1018.08" y="65.00" width="3.5" height="3.00" fill="#369579"/>
<rect x="1023.59" y="63.30" width="1" height="15.40" fill="#dc404c"/>
<rect x="1022.34" y="65.00" width="3.5" height="11.70" fill="#dc404c"/>
<rect x="1027.86" y="66.70" width="1" height="10.30" fill="#369579"/>
<rect x="1026.61" y="67.00" width="3.5" height="9.70" fill="#369579"/>
<rect x="1032.12" y="57.50" width="1" height="13.80" fill="#369579"/>
<rect x="1030.87" y="64.20" width="3.5" height="3.30" fill="#369579"/>
<rect x="1036.38" y="56.30" width="1" height="13.70" fill="#369579"/>
<rect x="1035.13" y="58.30" width="3.5" height="6.40" fill="#369579"/>
<rect x="1040.65" y="54.70" width="1" height="10.30" fill="#dc404c"/>
<rect x="1039.40" y="58.70" width="3.5" height="2.10" fill="#dc404c"/>
<rect x="1044.91" y="56.30" width="1" height="6.20" fill="#369579"/>
<rect x="1043.66" y="58.30" width="3.5" height="3.00" fill="#369579"/>
<rect x="1049.18" y="45.00" width="1" height="14.20" fill="#369579"/>
<rect x="1047.93" y="47.50" width="3.5" height="11.20" fill="#369579"/>
<rect x="1053.44" y="43.00" width="1" height="7.00" fill="#dc404c"/>
<rect x="1052.19" y="46.70" width="3.5" height="2.50" fill="#dc404c"/>
<rect x="1057.71" y="48.00" width="1" height="16.20" fill="#dc404c"/>
<rect x="1056.46" y="48.70" width="3.5" height="8.30" fill="#dc404c"/>
<rect x="1061.97" y="48.00" width="1" height="10.30" fill="#369579"/>
<rect x="1060.72" y="50.80" width="3.5" height="6.70" fill="#369579"/>
<rect x="1066.24" y="48.00" width="1" height="25.70" fill="#dc404c"/>
<rect x="1064.99" y="50.80" width="3.5" height="11.20" fill="#dc404c"/>
<rect x="1070.50" y="57.50" width="1" height="13.30" fill="#dc404c"/>
<rect x="1069.25" y="62.00" width="3.5" height="3.30" fill="#dc404c"/>
<rect x="1074.77" y="60.00" width="1" height="9.20" fill="#369579"/>
<rect x="1073.52" y="60.80" width="3.5" height="4.50" fill="#369579"/>
<rect x="1079.03" y="59.20" width="1" height="9.50" fill="#dc404c"/>
<rect x="1077.78" y="60.80" width="3.5" height="4.50" fill="#dc404c"/>
<rect x="1083.30" y="64.70" width="1" height="19.50" fill="#dc404c"/>
<rect x="1082.05" y="65.30" width="3.5" height="10.00" fill="#dc404c"/>
<rect x="1087.57" y="72.50" width="1" height="16.70" fill="#dc404c"/>
<rect x="1086.32" y="75.00" width="3.5" height="13.70" fill="#dc404c"/>
<rect x="1091.83" y="84.70" width="1" height="12.00" fill="#dc404c"/>
<rect x="1090.58" y="88.70" width="3.5" height="3.30" fill="#dc404c"/>
<rect x="1096.10" y="84.20" width="1" height="9.10" fill="#369579"/>
<rect x="1094.85" y="90.30" width="3.5" height="2.20" fill="#369579"/>
<rect x="1100.36" y="90.50" width="1" height="4.00" fill="#dc404c"/>
<rect x="1099.11" y="90.80" width="3.5" height="3.40" fill="#dc404c"/>
<line x1="0" x2="1145" y1="383.5" y2="383.5" stroke="#b4b4c2" stroke-width="0.9" stroke-dasharray="4.4 3.5"/>
<line x1="0" x2="1145" y1="433" y2="433" stroke="#b4b4c2" stroke-width="0.9" stroke-dasharray="4.4 3.5"/>
<line x1="0" x2="1145" y1="482.3" y2="482.3" stroke="#b4b4c2" stroke-width="0.9" stroke-dasharray="4.4 3.5"/>
<path d="M239.3,457.0 L243.6,459.2 L247.9,448.3 L252.1,456.2 L256.4,457.5 L260.7,459.2 L264.9,459.5 L269.2,461.7 L273.4,455.0 L277.7,444.2 L282.0,426.7 L286.2,439.7 L290.5,445.0 L294.8,445.8 L299.0,450.8 L303.3,458.3 L307.6,465.0 L311.8,468.0 L316.1,471.3 L320.4,474.2 L324.6,477.5 L328.9,473.3 L333.2,468.8 L337.4,472.0 L341.7,468.7 L346.0,466.3 L350.2,464.2 L354.5,462.5 L358.8,463.3 L363.0,458.0 L367.3,464.2 L371.5,469.7 L375.8,466.7 L380.1,463.0 L384.3,466.3 L388.6,464.7 L392.9,464.3 L397.1,463.3 L401.4,466.3 L405.7,467.5 L409.9,459.7 L414.2,460.0 L418.5,482.2 L422.7,483.3 L427.0,479.2 L431.3,479.5 L435.5,480.0 L439.8,481.7 L444.0,482.5 L448.3,484.2 L452.6,466.7 L456.8,448.3 L461.1,444.2 L465.4,440.0 L469.6,445.0 L473.9,449.7 L478.2,440.5 L482.4,445.0 L486.7,450.0 L491.0,451.7 L495.2,446.3 L499.5,448.3 L503.8,449.7 L508.0,450.5 L512.3,432.5 L516.6,444.2 L520.8,439.7 L525.1,443.0 L529.3,445.3 L533.6,449.7 L537.9,444.7 L542.1,440.3 L546.4,461.3 L550.7,461.3 L554.9,454.2 L559.2,442.5 L563.5,434.2 L567.7,413.7 L572.0,424.2 L576.3,426.7 L580.5,430.3 L584.8,426.3 L589.1,437.0 L593.3,441.5 L597.6,446.0 L601.9,450.6 L606.1,448.0 L610.4,444.8 L614.6,423.3 L618.9,427.0 L623.2,432.0 L627.4,403.0 L631.7,391.0 L636.0,375.2 L640.2,356.0 L644.5,352.2 L648.8,365.7 L653.0,359.3 L657.3,350.7 L661.6,363.5 L665.8,341.3 L670.1,361.8 L674.4,385.2 L678.6,382.3 L682.9,386.8 L687.2,383.5 L691.4,384.3 L695.7,375.2 L700.0,371.8 L704.2,388.0 L708.5,370.2 L712.7,362.7 L717.0,345.2 L721.3,366.3 L725.5,361.0 L729.8,383.5 L734.1,407.2 L738.3,409.3 L742.6,417.6 L746.9,413.4 L751.1,415.1 L755.4,400.7 L759.7,406.2 L763.9,406.5 L768.2,408.2 L772.5,418.0 L776.7,435.3 L781.0,423.3 L785.2,434.0 L789.5,420.4 L793.8,402.5 L798.0,402.5 L802.3,434.2 L806.6,433.0 L810.8,432.0 L815.1,422.5 L819.4,440.3 L823.6,439.7 L827.9,438.7 L832.2,429.7 L836.4,421.3 L840.7,429.2 L845.0,428.3 L849.2,415.8 L853.5,410.5 L857.8,421.7 L862.0,395.8 L866.3,386.3 L870.5,381.7 L874.8,393.0 L879.1,393.7 L883.3,403.7 L887.6,431.7 L891.9,426.3 L896.1,415.3 L900.4,429.2 L904.7,403.3 L908.9,410.3 L913.2,428.0 L917.5,430.0 L921.7,435.3 L926.0,443.3 L930.3,438.3 L934.5,459.2 L938.8,458.3 L943.1,455.8 L947.3,458.3 L951.6,464.5 L955.8,452.5 L960.1,446.5 L964.4,441.3 L968.6,442.5 L972.9,426.7 L977.2,426.3 L981.4,425.0 L985.7,435.8 L990.0,439.2 L994.2,439.2 L998.5,451.3 L1002.8,437.0 L1007.0,437.0 L1011.3,430.8 L1015.6,418.3 L1019.8,414.7 L1024.1,432.5 L1028.4,420.8 L1032.6,415.3 L1036.9,408.3 L1041.1,411.7 L1045.4,409.2 L1049.7,393.0 L1053.9,395.8 L1058.2,415.3 L1062.5,407.0 L1066.7,427.5 L1071.0,433.0 L1075.3,426.3 L1079.5,433.3 L1083.8,446.7 L1088.1,459.2 L1092.3,462.5 L1096.6,460.3 L1100.9,463.3 L1100.9,383.5 L239.3,383.5 Z" fill="url(#ob)" clip-path="url(#above70)"/>
<path d="M294.8,451.1 L299.0,450.6 L303.3,450.6 L307.6,451.8 L311.8,452.6 L316.1,453.6 L320.4,454.7 L324.6,455.9 L328.9,456.8 L333.2,457.8 L337.4,459.7 L341.7,462.7 L346.0,464.6 L350.2,466.0 L354.5,467.2 L358.8,468.1 L363.0,468.1 L367.3,468.0 L371.5,468.1 L375.8,467.8 L380.1,467.0 L384.3,466.2 L388.6,465.6 L392.9,465.3 L397.1,464.7 L401.4,464.5 L405.7,464.6 L409.9,464.2 L414.2,464.1 L418.5,465.4 L422.7,467.2 L427.0,468.3 L431.3,469.0 L435.5,469.9 L439.8,471.3 L444.0,472.4 L448.3,473.8 L452.6,474.0 L456.8,472.9 L461.1,471.4 L465.4,469.4 L469.6,468.3 L473.9,467.6 L478.2,464.6 L482.4,461.9 L486.7,459.8 L491.0,457.8 L495.2,455.4 L499.5,453.0 L503.8,450.7 L508.0,448.3 L512.3,445.8 L516.6,445.5 L520.8,445.2 L525.1,445.4 L529.3,445.5 L533.6,445.5 L537.9,445.8 L542.1,445.4 L546.4,446.2 L550.7,446.9 L554.9,447.5 L559.2,447.1 L563.5,446.0 L567.7,443.3 L572.0,442.7 L576.3,441.5 L580.5,440.8 L584.8,439.6 L589.1,439.0 L593.3,438.4 L597.6,438.5 L601.9,439.3 L606.1,438.3 L610.4,437.1 L614.6,434.9 L618.9,433.8 L623.2,433.7 L627.4,432.9 L631.7,430.5 L636.0,426.9 L640.2,421.6 L644.5,416.3 L648.8,411.2 L653.0,405.3 L657.3,398.5 L661.6,392.3 L665.8,384.6 L670.1,378.7 L674.4,376.0 L678.6,372.8 L682.9,369.6 L687.2,368.2 L691.4,367.7 L695.7,367.7 L700.0,368.8 L704.2,371.4 L708.5,371.7 L712.7,371.9 L717.0,371.6 L721.3,371.8 L725.5,373.2 L729.8,374.7 L734.1,376.3 L738.3,378.2 L742.6,380.4 L746.9,382.6 L751.1,384.8 L755.4,386.6 L759.7,389.0 L763.9,390.3 L768.2,393.1 L772.5,397.0 L776.7,403.4 L781.0,407.5 L785.2,412.7 L789.5,415.4 L793.8,415.0 L798.0,414.6 L802.3,415.7 L806.6,417.1 L810.8,418.3 L815.1,419.9 L819.4,422.3 L823.6,424.7 L827.9,426.9 L832.2,427.7 L836.4,426.7 L840.7,427.1 L845.0,426.7 L849.2,426.4 L853.5,427.0 L857.8,428.3 L862.0,425.6 L866.3,422.3 L870.5,418.7 L874.8,416.6 L879.1,413.2 L883.3,410.7 L887.6,410.2 L891.9,409.9 L896.1,409.5 L900.4,409.5 L904.7,407.7 L908.9,407.3 L913.2,408.6 L917.5,409.2 L921.7,412.0 L926.0,416.1 L930.3,420.1 L934.5,424.8 L938.8,429.4 L943.1,433.2 L947.3,435.1 L951.6,437.8 L955.8,440.4 L960.1,441.7 L964.4,444.4 L968.6,446.7 L972.9,446.6 L977.2,446.3 L981.4,445.6 L985.7,445.1 L990.0,445.1 L994.2,443.7 L998.5,443.2 L1002.8,441.9 L1007.0,440.3 L1011.3,437.9 L1015.6,435.5 L1019.8,433.2 L1024.1,432.6 L1028.4,431.0 L1032.6,430.2 L1036.9,428.9 L1041.1,428.0 L1045.4,426.1 L1049.7,422.8 L1053.9,419.7 L1058.2,417.1 L1062.5,415.0 L1066.7,414.3 L1071.0,414.5 L1075.3,415.0 L1079.5,416.4 L1083.8,417.4 L1088.1,420.1 L1092.3,423.5 L1096.6,427.2 L1100.9,430.9" fill="none" stroke="#f2e68d" stroke-width="1.1" stroke-linejoin="round"/>
<path d="M239.3,457.0 L243.6,459.2 L247.9,448.3 L252.1,456.2 L256.4,457.5 L260.7,459.2 L264.9,459.5 L269.2,461.7 L273.4,455.0 L277.7,444.2 L282.0,426.7 L286.2,439.7 L290.5,445.0 L294.8,445.8 L299.0,450.8 L303.3,458.3 L307.6,465.0 L311.8,468.0 L316.1,471.3 L320.4,474.2 L324.6,477.5 L328.9,473.3 L333.2,468.8 L337.4,472.0 L341.7,468.7 L346.0,466.3 L350.2,464.2 L354.5,462.5 L358.8,463.3 L363.0,458.0 L367.3,464.2 L371.5,469.7 L375.8,466.7 L380.1,463.0 L384.3,466.3 L388.6,464.7 L392.9,464.3 L397.1,463.3 L401.4,466.3 L405.7,467.5 L409.9,459.7 L414.2,460.0 L418.5,482.2 L422.7,483.3 L427.0,479.2 L431.3,479.5 L435.5,480.0 L439.8,481.7 L444.0,482.5 L448.3,484.2 L452.6,466.7 L456.8,448.3 L461.1,444.2 L465.4,440.0 L469.6,445.0 L473.9,449.7 L478.2,440.5 L482.4,445.0 L486.7,450.0 L491.0,451.7 L495.2,446.3 L499.5,448.3 L503.8,449.7 L508.0,450.5 L512.3,432.5 L516.6,444.2 L520.8,439.7 L525.1,443.0 L529.3,445.3 L533.6,449.7 L537.9,444.7 L542.1,440.3 L546.4,461.3 L550.7,461.3 L554.9,454.2 L559.2,442.5 L563.5,434.2 L567.7,413.7 L572.0,424.2 L576.3,426.7 L580.5,430.3 L584.8,426.3 L589.1,437.0 L593.3,441.5 L597.6,446.0 L601.9,450.6 L606.1,448.0 L610.4,444.8 L614.6,423.3 L618.9,427.0 L623.2,432.0 L627.4,403.0 L631.7,391.0 L636.0,375.2 L640.2,356.0 L644.5,352.2 L648.8,365.7 L653.0,359.3 L657.3,350.7 L661.6,363.5 L665.8,341.3 L670.1,361.8 L674.4,385.2 L678.6,382.3 L682.9,386.8 L687.2,383.5 L691.4,384.3 L695.7,375.2 L700.0,371.8 L704.2,388.0 L708.5,370.2 L712.7,362.7 L717.0,345.2 L721.3,366.3 L725.5,361.0 L729.8,383.5 L734.1,407.2 L738.3,409.3 L742.6,417.6 L746.9,413.4 L751.1,415.1 L755.4,400.7 L759.7,406.2 L763.9,406.5 L768.2,408.2 L772.5,418.0 L776.7,435.3 L781.0,423.3 L785.2,434.0 L789.5,420.4 L793.8,402.5 L798.0,402.5 L802.3,434.2 L806.6,433.0 L810.8,432.0 L815.1,422.5 L819.4,440.3 L823.6,439.7 L827.9,438.7 L832.2,429.7 L836.4,421.3 L840.7,429.2 L845.0,428.3 L849.2,415.8 L853.5,410.5 L857.8,421.7 L862.0,395.8 L866.3,386.3 L870.5,381.7 L874.8,393.0 L879.1,393.7 L883.3,403.7 L887.6,431.7 L891.9,426.3 L896.1,415.3 L900.4,429.2 L904.7,403.3 L908.9,410.3 L913.2,428.0 L917.5,430.0 L921.7,435.3 L926.0,443.3 L930.3,438.3 L934.5,459.2 L938.8,458.3 L943.1,455.8 L947.3,458.3 L951.6,464.5 L955.8,452.5 L960.1,446.5 L964.4,441.3 L968.6,442.5 L972.9,426.7 L977.2,426.3 L981.4,425.0 L985.7,435.8 L990.0,439.2 L994.2,439.2 L998.5,451.3 L1002.8,437.0 L1007.0,437.0 L1011.3,430.8 L1015.6,418.3 L1019.8,414.7 L1024.1,432.5 L1028.4,420.8 L1032.6,415.3 L1036.9,408.3 L1041.1,411.7 L1045.4,409.2 L1049.7,393.0 L1053.9,395.8 L1058.2,415.3 L1062.5,407.0 L1066.7,427.5 L1071.0,433.0 L1075.3,426.3 L1079.5,433.3 L1083.8,446.7 L1088.1,459.2 L1092.3,462.5 L1096.6,460.3 L1100.9,463.3" fill="none" stroke="#887ecb" stroke-width="1" stroke-linejoin="round"/>
<g transform="translate(1100.5,313.5)"><circle r="6.8" fill="#fff" stroke="#a24ddc" stroke-width="1.3"/><path d="M1.2,-4.2 L-2.8,0.8 L-0.4,0.8 L-1.4,4.2 L2.8,-0.9 L0.3,-0.9 Z" fill="#8a3fd1"/><circle cx="5" cy="-4.6" r="2.6" fill="#fff"/><circle cx="5" cy="-4.6" r="1.8" fill="#e23a47"/></g>
<g transform="translate(1172.7,509.7)" fill="none" stroke="#4a4a4f" stroke-width="1.05"><path d="M-2.4,-4.4 L2.4,-4.4 L4.9,0 L2.4,4.4 L-2.4,4.4 L-4.9,0 Z" stroke-linejoin="round"/><circle r="1.6"/></g>
<g transform="translate(9.2,476.5) scale(0.578)" fill="#15171c" stroke="#fff" stroke-width="3" paint-order="stroke" stroke-linejoin="round"><path d="M14 22H7V11H0V4h14v18zM28 22h-8l7.5-18h8L28 22z"/><circle cx="20" cy="8" r="4"/></g>
<circle cx="16.2" cy="8.7" r="3.9" fill="#3a9f8a"/><circle cx="16.9" cy="9.4" r="2.3" fill="#6fc7b2"/><circle cx="17.2" cy="8.8" r="1.1" fill="#d2fbef"/><circle cx="11.1" cy="13.5" r="4.9" fill="#fff"/><circle cx="11.1" cy="13.5" r="4.1" fill="#0d0f18"/><rect x="9.3" y="11.8" width="3.6" height="3.4" rx="0.6" fill="#46558c"/>
<circle cx="212" cy="11.5" r="5" fill="#e3f4ef"/><circle cx="212" cy="11.5" r="2.6" fill="#2fa585"/>
</svg>
<div class="t" style="left:1152px;top:20.3px;">320.0000</div>
<div class="t" style="left:1152px;top:47.8px;">220.0000</div>
<div class="t" style="left:1152px;top:71.3px;">160.0000</div>
<div class="t" style="left:1152px;top:106.3px;">100.0000</div>
<div class="t" style="left:1152px;top:131.3px;">70.0000</div>
<div class="t" style="left:1152px;top:156.3px;">50.0000</div>
<div class="t" style="left:1152px;top:184.3px;">34.0000</div>
<div class="t" style="left:1152px;top:210.3px;">24.0000</div>
<div class="t" style="left:1152px;top:239.3px;">16.0000</div>
<div class="t" style="left:1152px;top:266.3px;">11.0000</div>
<div class="t" style="left:1152px;top:290.3px;">8.0000</div>
<div class="t" style="left:1152px;top:328.3px;">90.00</div>
<div class="t" style="left:1152px;top:352.8px;">80.00</div>
<div class="t" style="left:1152px;top:377.8px;">70.00</div>
<div class="t" style="left:1152px;top:402.3px;">60.00</div>
<div class="t" style="left:1152px;top:451.8px;">40.00</div>
<div class="t" style="left:1152px;top:476.6px;">30.00</div>
<div class="t c" style="left:200.8px;top:505px;width:60px;font-size:10px;font-weight:bold;color:#333;">2022</div>
<div class="t c" style="left:311.7px;top:505px;width:60px;font-size:10px;">Jul</div>
<div class="t c" style="left:422.6px;top:505px;width:60px;font-size:10px;font-weight:bold;color:#333;">2023</div>
<div class="t c" style="left:533.5px;top:505px;width:60px;font-size:10px;">Jul</div>
<div class="t c" style="left:644.4px;top:505px;width:60px;font-size:10px;font-weight:bold;color:#333;">2024</div>
<div class="t c" style="left:755.2px;top:505px;width:60px;font-size:10px;">Jul</div>
<div class="t c" style="left:870.4px;top:505px;width:60px;font-size:10px;font-weight:bold;color:#333;">2025</div>
<div class="t c" style="left:981.3px;top:505px;width:60px;font-size:10px;">Jul</div>
<div class="t c" style="left:1092.2px;top:505px;width:60px;font-size:10px;font-weight:bold;color:#333;">2026</div>
<div class="t" style="left:23.3px;top:4.5px;font-size:11.2px;line-height:14px;color:#1c1f29;" id="title">Solana / Tether US · 1W · WhiteBIT</div>
<div class="t" style="left:223.5px;top:5.5px;font-size:10.2px;line-height:12px;color:#e64f5f;word-spacing:1.7px;" id="ohlc"><span class="k">O</span>133.4900 <span class="k">H</span>133.8370 <span class="k">L</span>125.8300 <span class="k">C</span>127.1400 −6.3800 (−4.78%)</div>
<div class="box" style="left:6.3px;top:23px;width:57.4px;height:23.7px;border:1px solid #f5a9ae;border-radius:4px;"></div>
<div class="t c" style="left:6.3px;top:24px;width:57.4px;color:#ec4755;font-weight:bold;font-size:9.8px;">127.1005</div>
<div class="t c" style="left:6.3px;top:34px;width:57.4px;color:#ee6f7a;font-size:8px;">SELL</div>
<div class="t c" style="left:64px;top:29px;width:36px;font-size:8px;color:#444;">0.0491</div>
<div class="box" style="left:100.5px;top:23px;width:57px;height:23.7px;border:1px solid #8f9cf3;border-radius:4px;"></div>
<div class="t c" style="left:100.5px;top:24px;width:57px;color:#5a6ce8;font-weight:bold;font-size:9.8px;">127.1496</div>
<div class="t c" style="left:100.5px;top:34px;width:57px;color:#7585ee;font-size:8px;">BUY</div>
<div class="box" style="left:6.7px;top:52.5px;width:19.6px;height:13.3px;border:1px solid #e6e8ec;border-radius:3px;background:#fff;"></div>
<svg style="position:absolute;left:12.5px;top:56.5px" width="8" height="6" viewBox="0 0 8 6"><path d="M1.2,1.6 L4,4.3 L6.8,1.6" fill="none" stroke="#222" stroke-width="1.3" stroke-linecap="round" stroke-linejoin="round"/></svg>
<div class="box" style="left:1148px;top:3.5px;width:48.5px;height:17.5px;border:1px solid #eef0f3;border-radius:3px;background:#fff;"></div>
<div class="t" style="left:1151.5px;top:6.5px;font-size:9.5px;color:#444;">USDT</div>
<svg style="position:absolute;left:1188px;top:10px" width="6" height="4" viewBox="0 0 6 4"><path d="M1,0.9 L3,2.8 L5,0.9" fill="none" stroke="#333" stroke-width="1.2" stroke-linecap="round" stroke-linejoin="round"/></svg>
<div class="box" style="left:1146px;top:88px;width:50px;height:21.5px;background:#e04552;border-radius:1px;"></div>
<div class="t" style="left:1152px;top:88px;color:#fff;">127.1400</div>
<div class="t" style="left:1152px;top:98px;color:#fff;opacity:.88;">6d 13h</div>
<div class="box" style="left:1146px;top:310.8px;width:45.5px;height:11.8px;background:#e3524f;"></div>
<div class="t" style="left:1151.5px;top:310.8px;color:#fff;">175.65K</div>
<div class="box" style="left:1146px;top:425.3px;width:33.7px;height:11.8px;background:#f5dc52;"></div>
<div class="t" style="left:1151.5px;top:425px;color:#333;">50.76</div>
<div class="box" style="left:1146px;top:457px;width:33.7px;height:11.8px;background:#7562c8;"></div>
<div class="t" style="left:1151.5px;top:457px;color:#fff;">37.63</div>
<div class="t" style="left:35.8px;top:475px;font-size:14.6px;line-height:18px;font-weight:bold;color:#15171c;letter-spacing:-0.06px;-webkit-text-stroke:2px #fff;paint-order:stroke fill;" id="tv">TradingView</div>
</div></body></html>
